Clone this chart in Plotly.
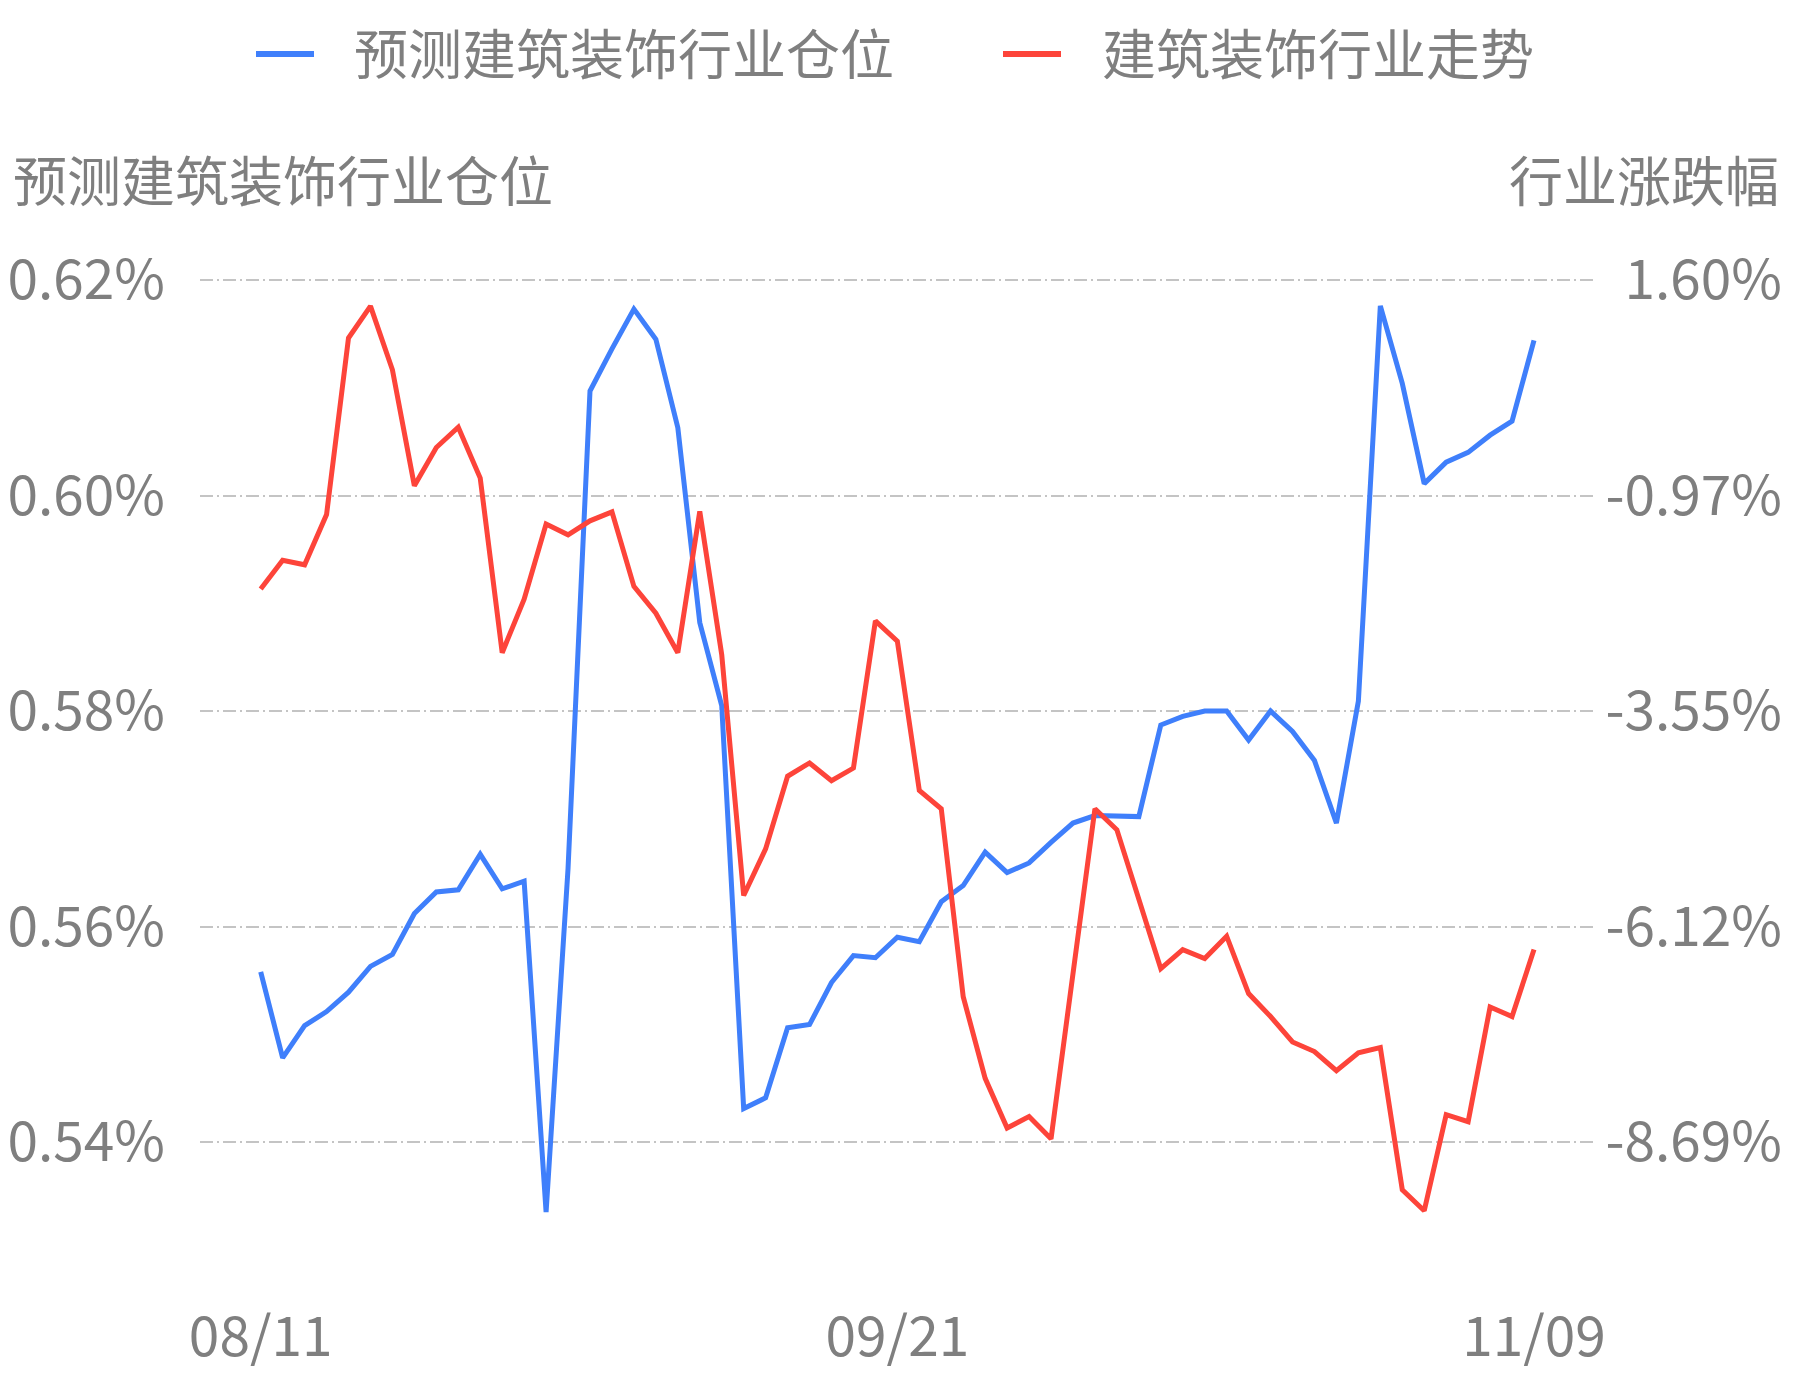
import plotly.graph_objects as go

# ---------------- data ----------------
dates = [
    "08/11", "08/14", "08/15", "08/16", "08/17", "08/18", "08/21", "08/22", "08/23", "08/24",
    "08/25", "08/28", "08/29", "08/30", "08/31", "09/01", "09/04", "09/05", "09/06", "09/07",
    "09/08", "09/11", "09/12", "09/13", "09/14", "09/15", "09/18", "09/19", "09/20", "09/21",
    "09/22", "09/25", "09/26", "09/27", "09/28", "10/09", "10/10", "10/11", "10/12", "10/13",
    "10/16", "10/17", "10/18", "10/19", "10/20", "10/23", "10/24", "10/25", "10/26", "10/27",
    "10/30", "10/31", "11/01", "11/02", "11/03", "11/06", "11/07", "11/08", "11/09",
]

position = [  # 预测建筑装饰行业仓位 (%)
    0.5558, 0.5478, 0.5508, 0.5521, 0.5539, 0.5563, 0.5574, 0.5612, 0.5632, 0.5634,
    0.5667, 0.5635, 0.5642, 0.5335, 0.5654, 0.6097, 0.6136, 0.6173, 0.6145, 0.6063,
    0.5882, 0.5805, 0.5431, 0.5441, 0.5506, 0.5509, 0.5548, 0.5573, 0.5571, 0.5590,
    0.5586, 0.5623, 0.5638, 0.5669, 0.5650, 0.5659, 0.5678, 0.5696, 0.5703, 0.5702,
    0.5702, 0.5787, 0.5795, 0.5800, 0.5800, 0.5773, 0.5800, 0.5781, 0.5754, 0.5696,
    0.5809, 0.6176, 0.6104, 0.6011, 0.6031, 0.6040, 0.6056, 0.6069, 0.6144,
]

trend = [  # 建筑装饰行业走势 (%)
    -2.089, -1.746, -1.800, -1.199, 0.908, 1.288, 0.528, -0.857, -0.400, -0.157,
    -0.765, -2.849, -2.210, -1.313, -1.442, -1.275, -1.168, -2.058, -2.378, -2.849,
    -1.161, -2.872, -5.747, -5.191, -4.324, -4.165, -4.378, -4.226, -2.469, -2.712,
    -4.492, -4.712, -6.956, -7.930, -8.523, -8.386, -8.652, -6.713, -4.712, -4.963,
    -5.800, -6.621, -6.393, -6.500, -6.233, -6.918, -7.192, -7.496, -7.610, -7.838,
    -7.625, -7.564, -9.260, -9.511, -8.363, -8.447, -7.078, -7.192, -6.393,
]

x_tick_labels = ["08/11", "09/21", "11/09"]
left_ticks = [0.54, 0.56, 0.58, 0.60, 0.62]
left_tick_labels = ["0.54%", "0.56%", "0.58%", "0.60%", "0.62%"]
right_ticks = [-8.69, -6.1175, -3.545, -0.9725, 1.60]
right_tick_labels = ["-8.69%", "-6.12%", "-3.55%", "-0.97%", "1.60%"]

series_names = ["预测建筑装饰行业仓位", "建筑装饰行业走势"]
left_title = "预测建筑装饰行业仓位"
right_title = "行业涨跌幅"

# ---------------- layout geometry ----------------
# positions are measured in page pixels; the figure div sits at an 8px body margin
OFF = 8
PAGE_W, PAGE_H = 1793, 1380
W, H = PAGE_W - 2 * OFF, PAGE_H - 2 * OFF

plot_left, plot_right = 200 - OFF, 1595 - OFF
plot_top, plot_bottom = 222 - OFF, 1262 - OFF
grid_top_px, grid_bot_px = 280 - OFF, 1142 - OFF
margin_r = 0
paper_w = W - plot_left - margin_r
paper_h = plot_bottom - plot_top


def px_x(page_px):
    return (page_px - OFF - plot_left) / paper_w


def px_y(page_py):
    return (plot_bottom - (page_py - OFF)) / paper_h


# axis ranges so that the tick grid lands on the reference pixel rows
lpp = (left_ticks[-1] - left_ticks[0]) / (grid_bot_px - grid_top_px)
l_top = left_ticks[-1] + (grid_top_px - plot_top) * lpp
l_bot = left_ticks[0] - (plot_bottom - grid_bot_px) * lpp
rpp = (right_ticks[-1] - right_ticks[0]) / (grid_bot_px - grid_top_px)
r_top = right_ticks[-1] + (grid_top_px - plot_top) * rpp
r_bot = right_ticks[0] - (plot_bottom - grid_bot_px) * rpp

first_px, last_px = 260.7 - OFF, 1534 - OFF
n = len(dates)
step = (last_px - first_px) / (n - 1)
x_lo = -(first_px - plot_left) / step
x_hi = (n - 1) + (plot_right - last_px) / step

FONT = "Noto Sans CJK SC, Noto Sans, sans-serif"
GRAY = "#7f7f7f"
BLUE = "#3f7ffb"
RED = "#fd443a"
colors = [BLUE, RED]

fig = go.Figure()
fig.add_trace(go.Scatter(x=list(range(n)), y=position, name=series_names[0], mode="lines",
                         line=dict(color=BLUE, width=5), yaxis="y", showlegend=False))
fig.add_trace(go.Scatter(x=list(range(n)), y=trend, name=series_names[1], mode="lines",
                         line=dict(color=RED, width=5), yaxis="y2", showlegend=False))

# legend (line swatches + text)
legend_y = 54
legend_items = [(256, 314, 352), (1003, 1061, 1100)]
shapes = []
annotations = []
for (lx0, lx1, tx), name, col in zip(legend_items, series_names, colors):
    shapes.append(dict(type="line", xref="paper", yref="paper",
                       x0=px_x(lx0), x1=px_x(lx1), y0=px_y(legend_y), y1=px_y(legend_y),
                       line=dict(color=col, width=6)))
    annotations.append(dict(text=name, xref="paper", yref="paper",
                            x=px_x(tx), y=px_y(legend_y - 2), xanchor="left", yanchor="middle",
                            showarrow=False, font=dict(size=54, color=GRAY)))

annotations += [
    dict(text=left_title, xref="paper", yref="paper",
         x=px_x(11), y=px_y(179), xanchor="left", yanchor="middle", showarrow=False,
         font=dict(size=54, color=GRAY)),
    dict(text=right_title, xref="paper", yref="paper",
         x=px_x(1781), y=px_y(179), xanchor="right", yanchor="middle", showarrow=False,
         font=dict(size=54, color=GRAY)),
]

fig.update_layout(
    width=W, height=H,
    margin=dict(l=plot_left, r=margin_r, t=plot_top, b=H - plot_bottom, pad=0),
    paper_bgcolor="white", plot_bgcolor="white",
    font=dict(family=FONT, color=GRAY, size=54),
    showlegend=False,
    xaxis=dict(domain=[0, (plot_right - plot_left) / paper_w], range=[x_lo, x_hi],
               tickvals=[dates.index(d) for d in x_tick_labels], ticktext=x_tick_labels,
               showgrid=False, zeroline=False, showline=False, ticks="", automargin=False,
               ticklabelstandoff=38, tickfont=dict(size=55, color=GRAY)),
    yaxis=dict(range=[l_bot, l_top], tickvals=left_ticks, ticktext=left_tick_labels,
               showgrid=True, gridcolor="#c4c4c4", gridwidth=1.5, griddash="13px,4px,2px,4px",
               zeroline=False, showline=False, ticks="", automargin=False,
               ticklabelstandoff=34, tickfont=dict(size=55, color=GRAY)),
    yaxis2=dict(range=[r_bot, r_top], tickvals=right_ticks, ticktext=right_tick_labels,
                overlaying="y", side="right", anchor="free", automargin=False,
                position=1.0, ticklabelposition="inside",
                showgrid=False, zeroline=False, showline=False, ticks="",
                tickfont=dict(size=55, color=GRAY)),
    shapes=shapes,
    annotations=annotations,
)

fig.write_html("out.html")
